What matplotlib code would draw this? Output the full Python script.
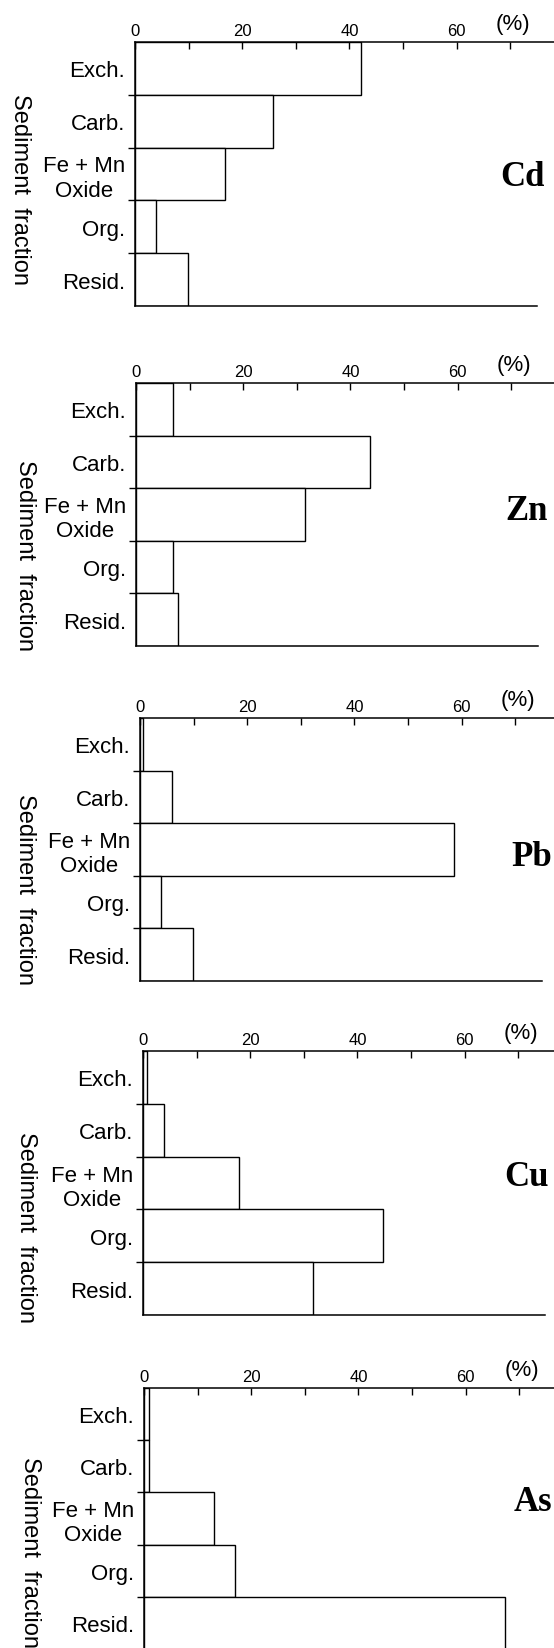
import numpy as np
import matplotlib
matplotlib.use("Agg")
import matplotlib.pyplot as plt

plt.rcParams["font.family"] = ["Liberation Sans", "DejaVu Sans"]

# sediment fractions (top to bottom) and % of each metal in them
fractions = ["Exch.", "Carb.", "Fe + Mn\nOxide", "Org.", "Resid."]
metals = ["Cd", "Zn", "Pb", "Cu", "As"]
cd_pct = [42.1, 25.7, 16.8, 4.0, 9.9]
zn_pct = [6.9, 43.6, 31.5, 6.9, 7.9]
pb_pct = [0.5, 5.9, 58.5, 4.0, 9.9]
cu_pct = [0.8, 3.9, 18.0, 44.7, 31.8]
as_pct = [1.0, 1.0, 13.0, 16.9, 67.4]
values = [cd_pct, zn_pct, pb_pct, cu_pct, as_pct]
major_ticks = [0, 20, 40, 60]
minor_ticks = [10, 30, 50, 70]

W, H = 554, 1649
PX_PER_PCT = 5.36

# panel frames in pixels: left x, top y, bottom y (scanned figure, slightly shifted)
frames = [(135, 43, 307), (136, 384, 647), (140, 719, 982),
          (143, 1052, 1316), (144, 1389, 1650)]
# y-label centre (x, y) and element label (x, y) in pixels
ylab_pos = [(20, 190), (25, 555), (25, 890), (26, 1228), (30, 1553)]
elem_pos = [(500, 177), (505, 512), (511, 857), (504, 1177), (514, 1503)]

fig = plt.figure(figsize=(W / 100, H / 100), dpi=100)

for i in range(5):
    x0, ytop, ybot = frames[i]
    ax = fig.add_axes([x0 / W, 1 - ybot / H, (W - x0) / W, (ybot - ytop) / H])
    ypos = np.arange(len(fractions)) + 0.5
    ax.barh(ypos, values[i], height=1.0, color="white", edgecolor="black",
            linewidth=1.0)

    ax.set_xlim(0, (W - x0) / PX_PER_PCT)
    ax.set_ylim(len(fractions), 0)

    ax.spines["right"].set_visible(False)
    ax.spines["bottom"].set_bounds(0, 75)
    for s in ["top", "left", "bottom"]:
        ax.spines[s].set_linewidth(1.1)

    ax.xaxis.tick_top()
    ax.set_xticks(major_ticks)
    ax.set_xticks(minor_ticks, minor=True)
    ax.set_xticklabels([str(t) for t in major_ticks])
    ax.tick_params(axis="x", which="both", direction="in", length=5,
                   width=1.0, labelsize=12, pad=3)

    ax.set_yticks(ypos)
    ax.set_yticklabels(fractions, fontsize=16, multialignment="center")
    ax.set_yticks([1, 2, 3, 4], minor=True)
    ax.tick_params(axis="y", which="major", length=0, pad=7)
    ax.tick_params(axis="y", which="minor", direction="out", length=5,
                   width=1.0)

    ax.text(70.5, -0.15, "(%)", ha="center", va="bottom", fontsize=16)

    fig.text(ylab_pos[i][0] / W, 1 - ylab_pos[i][1] / H, "Sediment  fraction",
             rotation=270, ha="center", va="center", fontsize=17)
    fig.text(elem_pos[i][0] / W, 1 - elem_pos[i][1] / H, metals[i],
             ha="left", va="center", fontsize=25, fontweight="bold",
             family="Liberation Serif")

fig.savefig("out.png", dpi=100)
